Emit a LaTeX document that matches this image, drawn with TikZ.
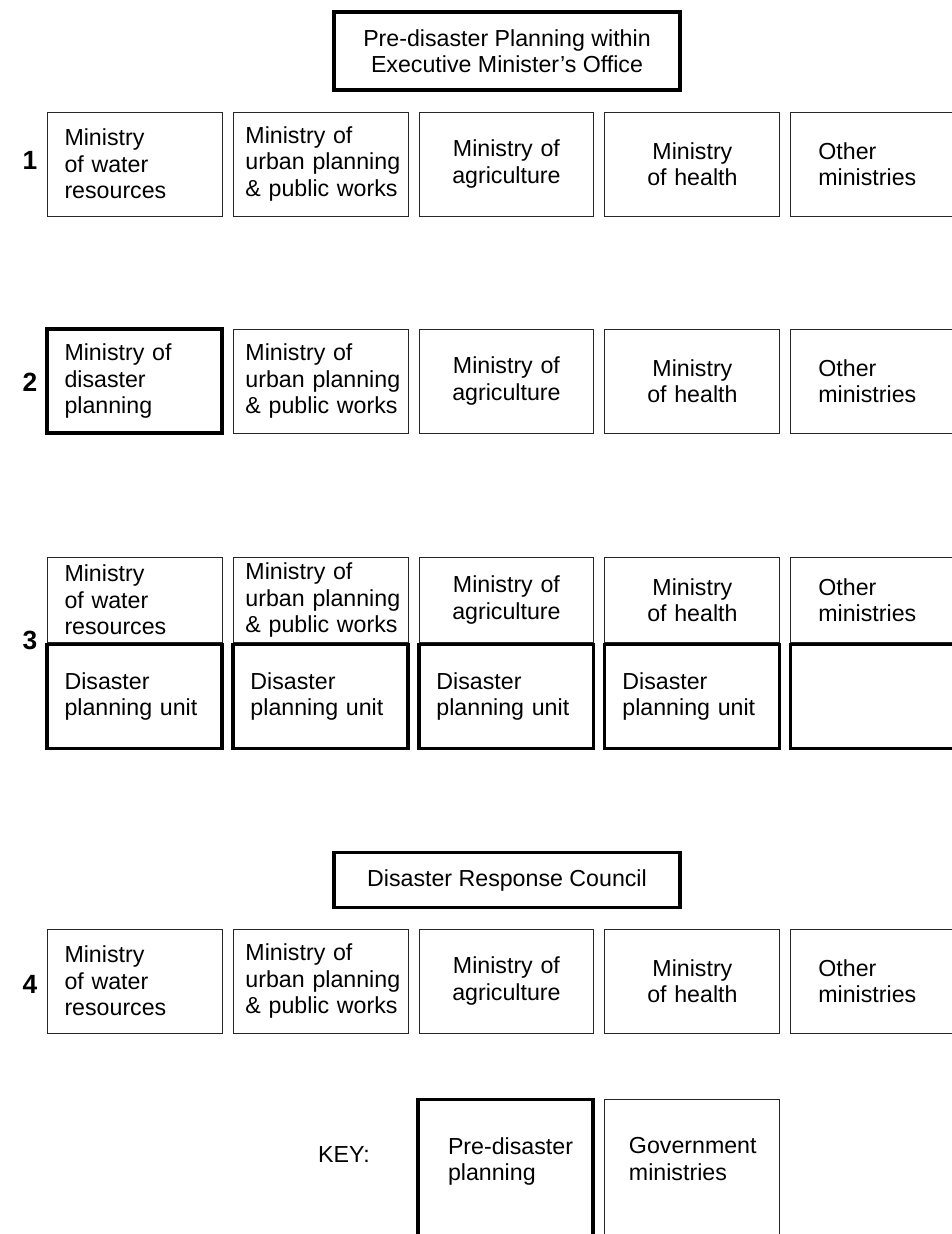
\documentclass[tikz,border=0pt]{standalone}
\usepackage{fontspec}
\setmainfont{Liberation Sans}
\begin{document}
\begin{tikzpicture}[
        x=0.02cm, y=-0.02cm,
        node distance=3.72cm,
        minbox/.style={rectangle, draw=black!85, line width=0.5pt, minimum width=3.5cm, minimum height=2.08cm, text width=2.8cm, inner xsep=0.35cm, align=left, font=\fontsize{13.2}{15}\selectfont},
        urbanbox/.style={minbox, text width=3.0cm, inner xsep=0.25cm},
        otherbox/.style={minbox, text width=2.4cm, inner xsep=0.55cm},
        planbox/.style={minbox, draw=black, line width=1.8pt},
        upper/.style={minimum height=1.7cm, inner ysep=0pt},
        headbox/.style={rectangle, draw, line width=1.8pt, minimum width=6.92cm, align=center, font=\fontsize{13.2}{15}\selectfont},
        rownum/.style={font=\fontsize{15}{18}\selectfont\bfseries}
    ]
        \useasboundingbox (0,0) rectangle (951,1234);

        \node[headbox, minimum height=1.56cm] (exec) at (507,51) {Pre-disaster Planning within\\Executive Minister's Office};

        % option 1
        \node[rownum] (n1) at (30,160) {1};
        \node[minbox] (water1) at (134.5,164) {Ministry\\of water\\resources};
        \node[urbanbox, right of=water1] (urban1) {Ministry of\\\mbox{urban planning}\\\mbox{\& public works}};
        \node[minbox, right of=urban1, align=center] (agri1) {Ministry of\\agriculture};
        \node[minbox, right of=agri1, align=center] (health1) {Ministry\\of health};
        \node[otherbox, right of=health1] (other1) {Other\\ministries};

        % option 2
        \node[rownum] (n2) at (30,382) {2};
        \node[planbox] (disas2) at (134.5,381) {Ministry of\\disaster\\planning};
        \node[urbanbox, right of=disas2] (urban2) {Ministry of\\\mbox{urban planning}\\\mbox{\& public works}};
        \node[minbox, right of=urban2, align=center] (agri2) {Ministry of\\agriculture};
        \node[minbox, right of=agri2, align=center] (health2) {Ministry\\of health};
        \node[otherbox, right of=health2] (other2) {Other\\ministries};

        % option 3
        \node[rownum] (n3) at (30,640) {3};
        \node[minbox, upper] (water3) at (134.5,600) {Ministry\\of water\\resources};
        \node[urbanbox, upper, right of=water3] (urban3) {Ministry of\\\mbox{urban planning}\\\mbox{\& public works}};
        \node[minbox, upper, right of=urban3, align=center] (agri3) {Ministry of\\agriculture};
        \node[minbox, upper, right of=agri3, align=center] (health3) {Ministry\\of health};
        \node[otherbox, upper, right of=health3] (other3) {Other\\ministries};
        \node[planbox, anchor=north] (unit1) at (water3.south) {Disaster\\planning unit};
        \node[planbox, anchor=north] (unit2) at (urban3.south) {Disaster\\planning unit};
        \node[planbox, anchor=north] (unit3) at (agri3.south) {Disaster\\planning unit};
        \node[planbox, anchor=north] (unit4) at (health3.south) {Disaster\\planning unit};
        \node[planbox, anchor=north] (unit5) at (other3.south) {};

        % option 4
        \node[headbox, minimum height=1.1cm] (council) at (507,880) {Disaster Response Council};
        \node[rownum] (n4) at (30,984) {4};
        \node[minbox] (water4) at (134.5,981) {Ministry\\of water\\resources};
        \node[urbanbox, right of=water4] (urban4) {Ministry of\\\mbox{urban planning}\\\mbox{\& public works}};
        \node[minbox, right of=urban4, align=center] (agri4) {Ministry of\\agriculture};
        \node[minbox, right of=agri4, align=center] (health4) {Ministry\\of health};
        \node[otherbox, right of=health4] (other4) {Other\\ministries};

        % key
        \node[planbox, text width=2.3cm, inner xsep=0.6cm, minimum height=2.9cm, anchor=north] (keyplan) at (505.5,1098) {\mbox{Pre-disaster}\\planning\\\mbox{}};
        \node[minbox, text width=2.5cm, inner xsep=0.5cm, minimum height=2.9cm, right of=keyplan] (keygov) {\mbox{Government}\\ministries\\\mbox{}};
        \node[font=\fontsize{13.2}{15}\selectfont] (keylbl) at (344,1155) {KEY:};
    \end{tikzpicture}
\end{document}
